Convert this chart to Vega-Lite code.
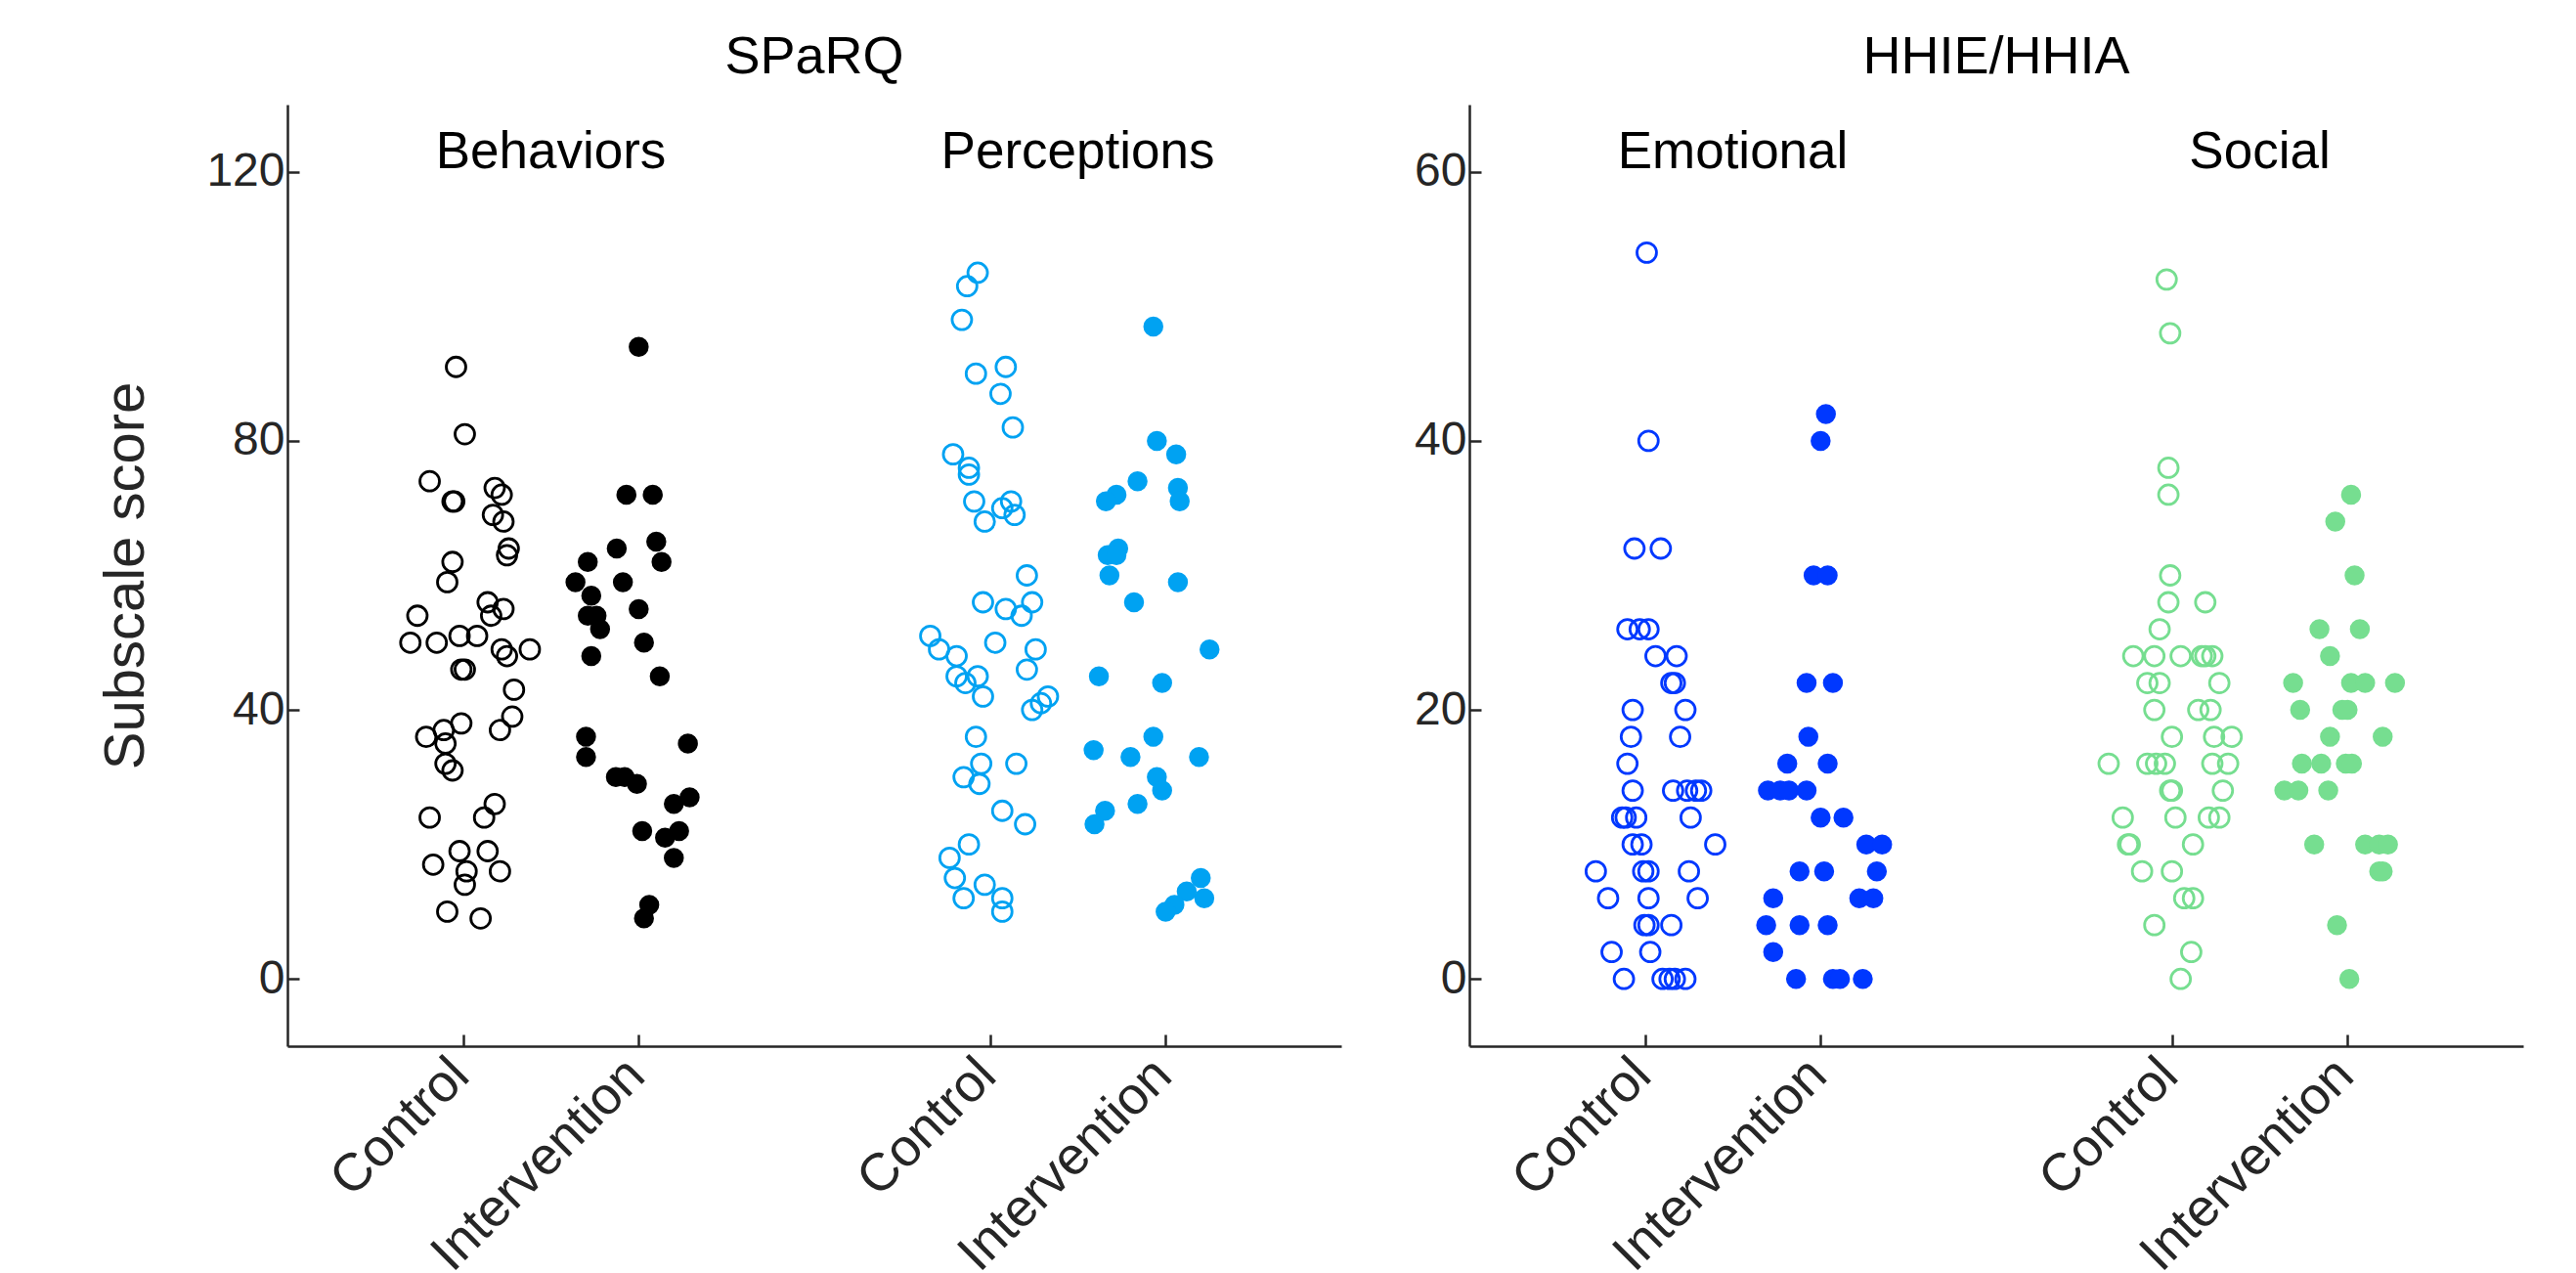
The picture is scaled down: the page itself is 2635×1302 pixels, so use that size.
{
  "$schema": "https://vega.github.io/schema/vega-lite/v6.json",
  "background": "white",
  "padding": {"left": 100, "top": 32, "right": 5, "bottom": 5},
  "bounds": "flush",
  "spacing": 131,
  "resolve": {"scale": {"color": "independent"}},
  "datasets": {
    "sparq": [
      {"sub":"Behaviors","arm":"Control","x":0.96,"y":91},{"sub":"Behaviors","arm":"Control","x":1.01,"y":81},{"sub":"Behaviors","arm":"Control","x":0.81,"y":74},{"sub":"Behaviors","arm":"Control","x":0.94,"y":71},{"sub":"Behaviors","arm":"Control","x":0.95,"y":71},{"sub":"Behaviors","arm":"Control","x":1.18,"y":73},{"sub":"Behaviors","arm":"Control","x":1.22,"y":72},{"sub":"Behaviors","arm":"Control","x":1.17,"y":69},{"sub":"Behaviors","arm":"Control","x":1.23,"y":68},{"sub":"Behaviors","arm":"Control","x":1.26,"y":64},{"sub":"Behaviors","arm":"Control","x":1.25,"y":63},{"sub":"Behaviors","arm":"Control","x":0.94,"y":62},{"sub":"Behaviors","arm":"Control","x":0.91,"y":59},{"sub":"Behaviors","arm":"Control","x":0.74,"y":54},{"sub":"Behaviors","arm":"Control","x":1.14,"y":56},{"sub":"Behaviors","arm":"Control","x":1.23,"y":55},{"sub":"Behaviors","arm":"Control","x":1.16,"y":54},{"sub":"Behaviors","arm":"Control","x":0.70,"y":50},{"sub":"Behaviors","arm":"Control","x":0.85,"y":50},{"sub":"Behaviors","arm":"Control","x":0.98,"y":51},{"sub":"Behaviors","arm":"Control","x":1.08,"y":51},{"sub":"Behaviors","arm":"Control","x":1.22,"y":49},{"sub":"Behaviors","arm":"Control","x":1.25,"y":48},{"sub":"Behaviors","arm":"Control","x":1.38,"y":49},{"sub":"Behaviors","arm":"Control","x":0.99,"y":46},{"sub":"Behaviors","arm":"Control","x":1.01,"y":46},{"sub":"Behaviors","arm":"Control","x":1.29,"y":43},{"sub":"Behaviors","arm":"Control","x":1.28,"y":39},{"sub":"Behaviors","arm":"Control","x":1.21,"y":37},{"sub":"Behaviors","arm":"Control","x":0.99,"y":38},{"sub":"Behaviors","arm":"Control","x":0.79,"y":36},{"sub":"Behaviors","arm":"Control","x":0.89,"y":37},{"sub":"Behaviors","arm":"Control","x":0.90,"y":35},{"sub":"Behaviors","arm":"Control","x":0.90,"y":32},{"sub":"Behaviors","arm":"Control","x":0.94,"y":31},{"sub":"Behaviors","arm":"Control","x":1.18,"y":26},{"sub":"Behaviors","arm":"Control","x":1.12,"y":24},{"sub":"Behaviors","arm":"Control","x":0.81,"y":24},{"sub":"Behaviors","arm":"Control","x":0.98,"y":19},{"sub":"Behaviors","arm":"Control","x":1.14,"y":19},{"sub":"Behaviors","arm":"Control","x":0.83,"y":17},{"sub":"Behaviors","arm":"Control","x":1.02,"y":16},{"sub":"Behaviors","arm":"Control","x":1.21,"y":16},{"sub":"Behaviors","arm":"Control","x":1.01,"y":14},{"sub":"Behaviors","arm":"Control","x":0.91,"y":10},{"sub":"Behaviors","arm":"Control","x":1.10,"y":9},
      {"sub":"Behaviors","arm":"Intervention","x":2.00,"y":94},{"sub":"Behaviors","arm":"Intervention","x":1.93,"y":72},{"sub":"Behaviors","arm":"Intervention","x":2.08,"y":72},{"sub":"Behaviors","arm":"Intervention","x":1.875,"y":64},{"sub":"Behaviors","arm":"Intervention","x":2.10,"y":65},{"sub":"Behaviors","arm":"Intervention","x":2.13,"y":62},{"sub":"Behaviors","arm":"Intervention","x":1.71,"y":62},{"sub":"Behaviors","arm":"Intervention","x":1.64,"y":59},{"sub":"Behaviors","arm":"Intervention","x":1.91,"y":59},{"sub":"Behaviors","arm":"Intervention","x":1.73,"y":57},{"sub":"Behaviors","arm":"Intervention","x":1.71,"y":54},{"sub":"Behaviors","arm":"Intervention","x":1.76,"y":54},{"sub":"Behaviors","arm":"Intervention","x":1.78,"y":52},{"sub":"Behaviors","arm":"Intervention","x":2.00,"y":55},{"sub":"Behaviors","arm":"Intervention","x":1.73,"y":48},{"sub":"Behaviors","arm":"Intervention","x":2.03,"y":50},{"sub":"Behaviors","arm":"Intervention","x":2.12,"y":45},{"sub":"Behaviors","arm":"Intervention","x":1.70,"y":36},{"sub":"Behaviors","arm":"Intervention","x":1.70,"y":33},{"sub":"Behaviors","arm":"Intervention","x":2.28,"y":35},{"sub":"Behaviors","arm":"Intervention","x":1.87,"y":30},{"sub":"Behaviors","arm":"Intervention","x":1.92,"y":30},{"sub":"Behaviors","arm":"Intervention","x":1.99,"y":29},{"sub":"Behaviors","arm":"Intervention","x":2.20,"y":26},{"sub":"Behaviors","arm":"Intervention","x":2.29,"y":27},{"sub":"Behaviors","arm":"Intervention","x":2.02,"y":22},{"sub":"Behaviors","arm":"Intervention","x":2.15,"y":21},{"sub":"Behaviors","arm":"Intervention","x":2.23,"y":22},{"sub":"Behaviors","arm":"Intervention","x":2.20,"y":18},{"sub":"Behaviors","arm":"Intervention","x":2.06,"y":11},{"sub":"Behaviors","arm":"Intervention","x":2.03,"y":9},
      {"sub":"Perceptions","arm":"Control","x":3.93,"y":105},{"sub":"Perceptions","arm":"Control","x":3.87,"y":103},{"sub":"Perceptions","arm":"Control","x":3.84,"y":98},{"sub":"Perceptions","arm":"Control","x":3.92,"y":90},{"sub":"Perceptions","arm":"Control","x":4.09,"y":91},{"sub":"Perceptions","arm":"Control","x":4.06,"y":87},{"sub":"Perceptions","arm":"Control","x":4.13,"y":82},{"sub":"Perceptions","arm":"Control","x":3.79,"y":78},{"sub":"Perceptions","arm":"Control","x":3.88,"y":76},{"sub":"Perceptions","arm":"Control","x":3.88,"y":75},{"sub":"Perceptions","arm":"Control","x":3.91,"y":71},{"sub":"Perceptions","arm":"Control","x":3.97,"y":68},{"sub":"Perceptions","arm":"Control","x":4.07,"y":70},{"sub":"Perceptions","arm":"Control","x":4.12,"y":71},{"sub":"Perceptions","arm":"Control","x":4.14,"y":69},{"sub":"Perceptions","arm":"Control","x":4.21,"y":60},{"sub":"Perceptions","arm":"Control","x":3.96,"y":56},{"sub":"Perceptions","arm":"Control","x":4.09,"y":55},{"sub":"Perceptions","arm":"Control","x":4.24,"y":56},{"sub":"Perceptions","arm":"Control","x":4.18,"y":54},{"sub":"Perceptions","arm":"Control","x":3.66,"y":51},{"sub":"Perceptions","arm":"Control","x":3.71,"y":49},{"sub":"Perceptions","arm":"Control","x":3.81,"y":48},{"sub":"Perceptions","arm":"Control","x":4.03,"y":50},{"sub":"Perceptions","arm":"Control","x":4.26,"y":49},{"sub":"Perceptions","arm":"Control","x":4.21,"y":46},{"sub":"Perceptions","arm":"Control","x":3.81,"y":45},{"sub":"Perceptions","arm":"Control","x":3.86,"y":44},{"sub":"Perceptions","arm":"Control","x":3.93,"y":45},{"sub":"Perceptions","arm":"Control","x":3.96,"y":42},{"sub":"Perceptions","arm":"Control","x":4.33,"y":42},{"sub":"Perceptions","arm":"Control","x":4.29,"y":41},{"sub":"Perceptions","arm":"Control","x":4.24,"y":40},{"sub":"Perceptions","arm":"Control","x":3.92,"y":36},{"sub":"Perceptions","arm":"Control","x":3.95,"y":32},{"sub":"Perceptions","arm":"Control","x":4.15,"y":32},{"sub":"Perceptions","arm":"Control","x":3.85,"y":30},{"sub":"Perceptions","arm":"Control","x":3.94,"y":29},{"sub":"Perceptions","arm":"Control","x":4.07,"y":25},{"sub":"Perceptions","arm":"Control","x":4.20,"y":23},{"sub":"Perceptions","arm":"Control","x":3.88,"y":20},{"sub":"Perceptions","arm":"Control","x":3.77,"y":18},{"sub":"Perceptions","arm":"Control","x":3.80,"y":15},{"sub":"Perceptions","arm":"Control","x":3.85,"y":12},{"sub":"Perceptions","arm":"Control","x":3.97,"y":14},{"sub":"Perceptions","arm":"Control","x":4.07,"y":12},{"sub":"Perceptions","arm":"Control","x":4.07,"y":10},
      {"sub":"Perceptions","arm":"Intervention","x":4.93,"y":97},{"sub":"Perceptions","arm":"Intervention","x":4.95,"y":80},{"sub":"Perceptions","arm":"Intervention","x":5.06,"y":78},{"sub":"Perceptions","arm":"Intervention","x":4.84,"y":74},{"sub":"Perceptions","arm":"Intervention","x":4.72,"y":72},{"sub":"Perceptions","arm":"Intervention","x":4.66,"y":71},{"sub":"Perceptions","arm":"Intervention","x":5.07,"y":73},{"sub":"Perceptions","arm":"Intervention","x":5.08,"y":71},{"sub":"Perceptions","arm":"Intervention","x":4.73,"y":64},{"sub":"Perceptions","arm":"Intervention","x":4.67,"y":63},{"sub":"Perceptions","arm":"Intervention","x":4.72,"y":63},{"sub":"Perceptions","arm":"Intervention","x":4.68,"y":60},{"sub":"Perceptions","arm":"Intervention","x":5.07,"y":59},{"sub":"Perceptions","arm":"Intervention","x":4.82,"y":56},{"sub":"Perceptions","arm":"Intervention","x":5.25,"y":49},{"sub":"Perceptions","arm":"Intervention","x":4.62,"y":45},{"sub":"Perceptions","arm":"Intervention","x":4.98,"y":44},{"sub":"Perceptions","arm":"Intervention","x":4.59,"y":34},{"sub":"Perceptions","arm":"Intervention","x":4.80,"y":33},{"sub":"Perceptions","arm":"Intervention","x":4.93,"y":36},{"sub":"Perceptions","arm":"Intervention","x":5.19,"y":33},{"sub":"Perceptions","arm":"Intervention","x":4.95,"y":30},{"sub":"Perceptions","arm":"Intervention","x":4.98,"y":28},{"sub":"Perceptions","arm":"Intervention","x":4.84,"y":26},{"sub":"Perceptions","arm":"Intervention","x":4.655,"y":25},{"sub":"Perceptions","arm":"Intervention","x":4.595,"y":23},{"sub":"Perceptions","arm":"Intervention","x":5.20,"y":15},{"sub":"Perceptions","arm":"Intervention","x":5.12,"y":13},{"sub":"Perceptions","arm":"Intervention","x":5.22,"y":12},{"sub":"Perceptions","arm":"Intervention","x":5.05,"y":11},{"sub":"Perceptions","arm":"Intervention","x":5.00,"y":10}
    ],
    "hhie": [
      {"sub":"Emotional","arm":"Control","x":1.01,"y":54},{"sub":"Emotional","arm":"Control","x":1.02,"y":40},{"sub":"Emotional","arm":"Control","x":0.94,"y":32},{"sub":"Emotional","arm":"Control","x":1.09,"y":32},{"sub":"Emotional","arm":"Control","x":0.90,"y":26},{"sub":"Emotional","arm":"Control","x":0.97,"y":26},{"sub":"Emotional","arm":"Control","x":1.02,"y":26},{"sub":"Emotional","arm":"Control","x":1.06,"y":24},{"sub":"Emotional","arm":"Control","x":1.18,"y":24},{"sub":"Emotional","arm":"Control","x":1.15,"y":22},{"sub":"Emotional","arm":"Control","x":1.17,"y":22},{"sub":"Emotional","arm":"Control","x":0.93,"y":20},{"sub":"Emotional","arm":"Control","x":1.23,"y":20},{"sub":"Emotional","arm":"Control","x":0.92,"y":18},{"sub":"Emotional","arm":"Control","x":1.20,"y":18},{"sub":"Emotional","arm":"Control","x":0.90,"y":16},{"sub":"Emotional","arm":"Control","x":0.93,"y":14},{"sub":"Emotional","arm":"Control","x":1.16,"y":14},{"sub":"Emotional","arm":"Control","x":1.24,"y":14},{"sub":"Emotional","arm":"Control","x":1.29,"y":14},{"sub":"Emotional","arm":"Control","x":1.32,"y":14},{"sub":"Emotional","arm":"Control","x":0.87,"y":12},{"sub":"Emotional","arm":"Control","x":0.89,"y":12},{"sub":"Emotional","arm":"Control","x":0.95,"y":12},{"sub":"Emotional","arm":"Control","x":1.26,"y":12},{"sub":"Emotional","arm":"Control","x":0.93,"y":10},{"sub":"Emotional","arm":"Control","x":0.98,"y":10},{"sub":"Emotional","arm":"Control","x":1.40,"y":10},{"sub":"Emotional","arm":"Control","x":0.72,"y":8},{"sub":"Emotional","arm":"Control","x":0.99,"y":8},{"sub":"Emotional","arm":"Control","x":1.02,"y":8},{"sub":"Emotional","arm":"Control","x":1.25,"y":8},{"sub":"Emotional","arm":"Control","x":0.79,"y":6},{"sub":"Emotional","arm":"Control","x":1.02,"y":6},{"sub":"Emotional","arm":"Control","x":1.30,"y":6},{"sub":"Emotional","arm":"Control","x":0.997,"y":4},{"sub":"Emotional","arm":"Control","x":1.02,"y":4},{"sub":"Emotional","arm":"Control","x":1.15,"y":4},{"sub":"Emotional","arm":"Control","x":0.81,"y":2},{"sub":"Emotional","arm":"Control","x":1.03,"y":2},{"sub":"Emotional","arm":"Control","x":0.88,"y":0},{"sub":"Emotional","arm":"Control","x":1.10,"y":0},{"sub":"Emotional","arm":"Control","x":1.14,"y":0},{"sub":"Emotional","arm":"Control","x":1.17,"y":0},{"sub":"Emotional","arm":"Control","x":1.23,"y":0},
      {"sub":"Emotional","arm":"Intervention","x":2.03,"y":42},{"sub":"Emotional","arm":"Intervention","x":2.00,"y":40},{"sub":"Emotional","arm":"Intervention","x":1.96,"y":30},{"sub":"Emotional","arm":"Intervention","x":2.04,"y":30},{"sub":"Emotional","arm":"Intervention","x":1.92,"y":22},{"sub":"Emotional","arm":"Intervention","x":2.07,"y":22},{"sub":"Emotional","arm":"Intervention","x":1.93,"y":18},{"sub":"Emotional","arm":"Intervention","x":1.81,"y":16},{"sub":"Emotional","arm":"Intervention","x":2.04,"y":16},{"sub":"Emotional","arm":"Intervention","x":1.70,"y":14},{"sub":"Emotional","arm":"Intervention","x":1.77,"y":14},{"sub":"Emotional","arm":"Intervention","x":1.82,"y":14},{"sub":"Emotional","arm":"Intervention","x":1.92,"y":14},{"sub":"Emotional","arm":"Intervention","x":2.00,"y":12},{"sub":"Emotional","arm":"Intervention","x":2.13,"y":12},{"sub":"Emotional","arm":"Intervention","x":2.26,"y":10},{"sub":"Emotional","arm":"Intervention","x":2.35,"y":10},{"sub":"Emotional","arm":"Intervention","x":1.88,"y":8},{"sub":"Emotional","arm":"Intervention","x":2.02,"y":8},{"sub":"Emotional","arm":"Intervention","x":2.32,"y":8},{"sub":"Emotional","arm":"Intervention","x":1.73,"y":6},{"sub":"Emotional","arm":"Intervention","x":2.22,"y":6},{"sub":"Emotional","arm":"Intervention","x":2.30,"y":6},{"sub":"Emotional","arm":"Intervention","x":1.69,"y":4},{"sub":"Emotional","arm":"Intervention","x":1.88,"y":4},{"sub":"Emotional","arm":"Intervention","x":2.04,"y":4},{"sub":"Emotional","arm":"Intervention","x":1.73,"y":2},{"sub":"Emotional","arm":"Intervention","x":1.86,"y":0},{"sub":"Emotional","arm":"Intervention","x":2.07,"y":0},{"sub":"Emotional","arm":"Intervention","x":2.11,"y":0},{"sub":"Emotional","arm":"Intervention","x":2.24,"y":0},
      {"sub":"Social","arm":"Control","x":3.97,"y":52},{"sub":"Social","arm":"Control","x":3.99,"y":48},{"sub":"Social","arm":"Control","x":3.98,"y":38},{"sub":"Social","arm":"Control","x":3.98,"y":36},{"sub":"Social","arm":"Control","x":3.99,"y":30},{"sub":"Social","arm":"Control","x":3.98,"y":28},{"sub":"Social","arm":"Control","x":4.19,"y":28},{"sub":"Social","arm":"Control","x":3.93,"y":26},{"sub":"Social","arm":"Control","x":3.78,"y":24},{"sub":"Social","arm":"Control","x":3.90,"y":24},{"sub":"Social","arm":"Control","x":4.05,"y":24},{"sub":"Social","arm":"Control","x":4.17,"y":24},{"sub":"Social","arm":"Control","x":4.19,"y":24},{"sub":"Social","arm":"Control","x":4.23,"y":24},{"sub":"Social","arm":"Control","x":3.86,"y":22},{"sub":"Social","arm":"Control","x":3.93,"y":22},{"sub":"Social","arm":"Control","x":4.27,"y":22},{"sub":"Social","arm":"Control","x":3.90,"y":20},{"sub":"Social","arm":"Control","x":4.15,"y":20},{"sub":"Social","arm":"Control","x":4.22,"y":20},{"sub":"Social","arm":"Control","x":4.00,"y":18},{"sub":"Social","arm":"Control","x":4.24,"y":18},{"sub":"Social","arm":"Control","x":4.34,"y":18},{"sub":"Social","arm":"Control","x":3.64,"y":16},{"sub":"Social","arm":"Control","x":3.86,"y":16},{"sub":"Social","arm":"Control","x":3.91,"y":16},{"sub":"Social","arm":"Control","x":3.96,"y":16},{"sub":"Social","arm":"Control","x":4.23,"y":16},{"sub":"Social","arm":"Control","x":4.32,"y":16},{"sub":"Social","arm":"Control","x":3.99,"y":14},{"sub":"Social","arm":"Control","x":4.00,"y":14},{"sub":"Social","arm":"Control","x":4.29,"y":14},{"sub":"Social","arm":"Control","x":3.72,"y":12},{"sub":"Social","arm":"Control","x":4.02,"y":12},{"sub":"Social","arm":"Control","x":4.21,"y":12},{"sub":"Social","arm":"Control","x":4.27,"y":12},{"sub":"Social","arm":"Control","x":3.75,"y":10},{"sub":"Social","arm":"Control","x":3.76,"y":10},{"sub":"Social","arm":"Control","x":4.12,"y":10},{"sub":"Social","arm":"Control","x":3.83,"y":8},{"sub":"Social","arm":"Control","x":4.00,"y":8},{"sub":"Social","arm":"Control","x":4.07,"y":6},{"sub":"Social","arm":"Control","x":4.12,"y":6},{"sub":"Social","arm":"Control","x":3.90,"y":4},{"sub":"Social","arm":"Control","x":4.11,"y":2},{"sub":"Social","arm":"Control","x":4.05,"y":0},
      {"sub":"Social","arm":"Intervention","x":5.02,"y":36},{"sub":"Social","arm":"Intervention","x":4.93,"y":34},{"sub":"Social","arm":"Intervention","x":5.04,"y":30},{"sub":"Social","arm":"Intervention","x":4.84,"y":26},{"sub":"Social","arm":"Intervention","x":5.07,"y":26},{"sub":"Social","arm":"Intervention","x":4.90,"y":24},{"sub":"Social","arm":"Intervention","x":4.69,"y":22},{"sub":"Social","arm":"Intervention","x":5.02,"y":22},{"sub":"Social","arm":"Intervention","x":5.10,"y":22},{"sub":"Social","arm":"Intervention","x":5.27,"y":22},{"sub":"Social","arm":"Intervention","x":4.73,"y":20},{"sub":"Social","arm":"Intervention","x":4.97,"y":20},{"sub":"Social","arm":"Intervention","x":5.00,"y":20},{"sub":"Social","arm":"Intervention","x":4.90,"y":18},{"sub":"Social","arm":"Intervention","x":5.20,"y":18},{"sub":"Social","arm":"Intervention","x":4.74,"y":16},{"sub":"Social","arm":"Intervention","x":4.85,"y":16},{"sub":"Social","arm":"Intervention","x":4.99,"y":16},{"sub":"Social","arm":"Intervention","x":5.025,"y":16},{"sub":"Social","arm":"Intervention","x":4.64,"y":14},{"sub":"Social","arm":"Intervention","x":4.72,"y":14},{"sub":"Social","arm":"Intervention","x":4.89,"y":14},{"sub":"Social","arm":"Intervention","x":4.81,"y":10},{"sub":"Social","arm":"Intervention","x":5.10,"y":10},{"sub":"Social","arm":"Intervention","x":5.18,"y":10},{"sub":"Social","arm":"Intervention","x":5.23,"y":10},{"sub":"Social","arm":"Intervention","x":5.18,"y":8},{"sub":"Social","arm":"Intervention","x":5.20,"y":8},{"sub":"Social","arm":"Intervention","x":4.94,"y":4},{"sub":"Social","arm":"Intervention","x":5.01,"y":0}
    ],
    "sparqLabels": [
      {"x": 1.5, "y": 120.5, "label": "Behaviors"},
      {"x": 4.5, "y": 120.5, "label": "Perceptions"}
    ],
    "hhieLabels": [
      {"x": 1.5, "y": 60.25, "label": "Emotional"},
      {"x": 4.5, "y": 60.25, "label": "Social"}
    ]
  },
  "config": {
    "font": "Liberation Sans",
    "view": {"stroke": null},
    "axis": {
      "grid": false,
      "domainColor": "#262626",
      "tickColor": "#262626",
      "labelColor": "#262626",
      "titleColor": "#262626",
      "labelFont": "Liberation Sans",
      "titleFont": "Liberation Sans",
      "labelFontSize": 48,
      "titleFontSize": 58,
      "titleFontWeight": "normal",
      "domainWidth": 2.5,
      "tickWidth": 2.5,
      "tickSize": -12,
      "labelLimit": 0,
      "labelOverlap": false,
      "labelFlush": false
    },
    "title": {"font": "Liberation Sans", "fontSize": 54, "fontWeight": "normal", "color": "black", "anchor": "middle", "frame": "group", "offset": 21}
  },
  "hconcat": [
    {
      "width": 1078,
      "height": 963,
      "title": "SPaRQ",
      "layer": [
        {
          "data": {"name": "sparq"},
          "transform": [{"filter": "datum.arm === 'Control'"}],
          "mark": {"type": "point", "shape": "circle", "filled": false, "size": 400, "strokeWidth": 2.8, "opacity": 1},
          "encoding": {
            "x": {"field": "x", "type": "quantitative", "scale": {"domain": [0, 6], "nice": false, "zero": false},
                  "axis": {"title": null, "values": [1, 2, 4, 5], "labelExpr": "datum.value === 1 || datum.value === 4 ? 'Control' : 'Intervention'", "labelAngle": -45, "labelAlign": "right", "labelBaseline": "top", "labelPadding": 14, "labelOffset": -22, "labelFontSize": 54}},
            "y": {"field": "y", "type": "quantitative", "scale": {"domain": [-10, 130], "nice": false, "zero": false},
                  "axis": {"title": "Subscale score", "values": [0, 40, 80, 120], "labelPadding": 15, "titlePadding": 52}},
            "color": {"field": "sub", "type": "nominal", "scale": {"domain": ["Behaviors", "Perceptions"], "range": ["#000000", "#00A2F2"]}, "legend": null}
          }
        },
        {
          "data": {"name": "sparq"},
          "transform": [{"filter": "datum.arm === 'Intervention'"}],
          "mark": {"type": "point", "shape": "circle", "filled": true, "size": 420, "opacity": 1},
          "encoding": {
            "x": {"field": "x", "type": "quantitative"},
            "y": {"field": "y", "type": "quantitative"},
            "color": {"field": "sub", "type": "nominal", "legend": null}
          }
        },
        {
          "data": {"name": "sparqLabels"},
          "mark": {"type": "text", "fontSize": 53, "font": "Liberation Sans", "color": "black", "align": "center", "baseline": "alphabetic"},
          "encoding": {
            "x": {"field": "x", "type": "quantitative"},
            "y": {"field": "y", "type": "quantitative"},
            "text": {"field": "label"}
          }
        }
      ]
    },
    {
      "width": 1078,
      "height": 963,
      "title": "HHIE/HHIA",
      "layer": [
        {
          "data": {"name": "hhie"},
          "transform": [{"filter": "datum.arm === 'Control'"}],
          "mark": {"type": "point", "shape": "circle", "filled": false, "size": 400, "strokeWidth": 2.8, "opacity": 1},
          "encoding": {
            "x": {"field": "x", "type": "quantitative", "scale": {"domain": [0, 6], "nice": false, "zero": false},
                  "axis": {"title": null, "values": [1, 2, 4, 5], "labelExpr": "datum.value === 1 || datum.value === 4 ? 'Control' : 'Intervention'", "labelAngle": -45, "labelAlign": "right", "labelBaseline": "top", "labelPadding": 14, "labelOffset": -22, "labelFontSize": 54}},
            "y": {"field": "y", "type": "quantitative", "scale": {"domain": [-5, 65], "nice": false, "zero": false},
                  "axis": {"title": null, "values": [0, 20, 40, 60], "labelPadding": 15}},
            "color": {"field": "sub", "type": "nominal", "scale": {"domain": ["Emotional", "Social"], "range": ["#0038FF", "#76DE90"]}, "legend": null}
          }
        },
        {
          "data": {"name": "hhie"},
          "transform": [{"filter": "datum.arm === 'Intervention'"}],
          "mark": {"type": "point", "shape": "circle", "filled": true, "size": 420, "opacity": 1},
          "encoding": {
            "x": {"field": "x", "type": "quantitative"},
            "y": {"field": "y", "type": "quantitative"},
            "color": {"field": "sub", "type": "nominal", "legend": null}
          }
        },
        {
          "data": {"name": "hhieLabels"},
          "mark": {"type": "text", "fontSize": 53, "font": "Liberation Sans", "color": "black", "align": "center", "baseline": "alphabetic"},
          "encoding": {
            "x": {"field": "x", "type": "quantitative"},
            "y": {"field": "y", "type": "quantitative"},
            "text": {"field": "label"}
          }
        }
      ]
    }
  ]
}
